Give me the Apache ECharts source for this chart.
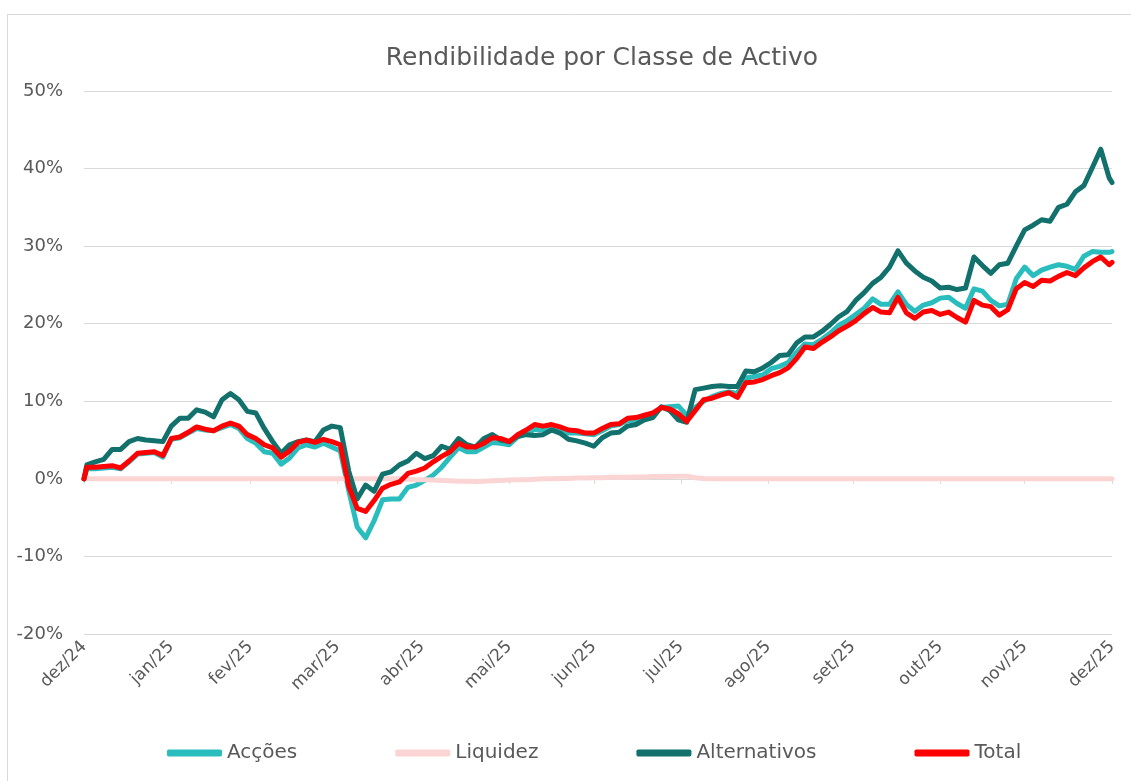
<!DOCTYPE html>
<html>
<head>
<meta charset="utf-8">
<title>Rendibilidade por Classe de Activo</title>
<script src="https://cdn.jsdelivr.net/npm/echarts@6/dist/echarts.min.js"></script>
<style>
  html, body { margin: 0; padding: 0; background: #fff; }
  #main { width: 1131px; height: 781px; }
</style>
</head>
<body>
<div id="main"></div>
<script>
// datas das observações (aprox. de 3 em 3 dias)
var dates = [
  '2024-12-31','2025-01-01','2025-01-04','2025-01-07','2025-01-10','2025-01-13','2025-01-16','2025-01-19','2025-01-22','2025-01-25','2025-01-28','2025-01-31',
  '2025-02-03','2025-02-06','2025-02-09','2025-02-12','2025-02-15','2025-02-18','2025-02-21','2025-02-24','2025-02-27',
  '2025-03-02','2025-03-05','2025-03-08','2025-03-11','2025-03-14','2025-03-17','2025-03-20','2025-03-23','2025-03-26','2025-03-29',
  '2025-04-01','2025-04-04','2025-04-07','2025-04-10','2025-04-13','2025-04-16','2025-04-19','2025-04-22','2025-04-25','2025-04-28',
  '2025-05-01','2025-05-04','2025-05-07','2025-05-10','2025-05-13','2025-05-16','2025-05-19','2025-05-22','2025-05-25','2025-05-28','2025-05-31',
  '2025-06-03','2025-06-06','2025-06-09','2025-06-12','2025-06-15','2025-06-18','2025-06-21','2025-06-24','2025-06-27','2025-06-30',
  '2025-07-03','2025-07-06','2025-07-09','2025-07-12','2025-07-15','2025-07-18','2025-07-21','2025-07-24','2025-07-27','2025-07-30',
  '2025-08-02','2025-08-05','2025-08-08','2025-08-11','2025-08-14','2025-08-17','2025-08-20','2025-08-23','2025-08-26','2025-08-29',
  '2025-09-01','2025-09-04','2025-09-07','2025-09-10','2025-09-13','2025-09-16','2025-09-19','2025-09-22','2025-09-25','2025-09-28',
  '2025-10-01','2025-10-04','2025-10-07','2025-10-10','2025-10-13','2025-10-16','2025-10-19','2025-10-22','2025-10-25','2025-10-28','2025-10-31',
  '2025-11-03','2025-11-06','2025-11-09','2025-11-12','2025-11-15','2025-11-18','2025-11-21','2025-11-24','2025-11-27','2025-11-30',
  '2025-12-03','2025-12-06','2025-12-09','2025-12-12','2025-12-15','2025-12-18','2025-12-21','2025-12-24','2025-12-27','2025-12-30','2025-12-31'
];

var acoes = [
  0, 1.3, 1.3, 1.4, 1.5, 1.3, 2.2, 3.2, 3.3, 3.4, 2.8, 5.1,
  5.3, 5.9, 6.5, 6.3, 6.2, 6.6, 7.0, 6.5, 5.2,
  4.6, 3.5, 3.3, 1.9, 2.7, 4.0, 4.4, 4.1, 4.6, 4.1,
  3.6, -1.5, -6.2, -7.6, -5.4, -2.7, -2.6, -2.6, -1.1, -0.8,
  -0.2, 0.5, 1.5, 2.8, 4.0, 3.5, 3.5, 4.1, 4.7, 4.6, 4.4,
  5.4, 5.8, 6.4, 6.3, 6.5, 6.3, 5.9, 5.9, 5.8, 5.7,
  6.2, 6.8, 7.0, 7.5, 7.6, 7.9, 8.3, 9.2, 9.3, 9.4,
  8.2, 9.2, 10.0, 10.6, 11.0, 11.2, 11.0, 13.0, 13.2, 13.4,
  14.2, 14.5, 15.0, 16.3, 17.4, 17.3, 18.0, 18.8, 19.8, 20.4,
  21.2, 22.0, 23.2, 22.5, 22.5, 24.1, 22.5, 21.6, 22.4, 22.7, 23.3,
  23.4, 22.6, 22.0, 24.5, 24.2, 23.0, 22.3, 22.5, 25.8, 27.3,
  26.2, 26.9, 27.3, 27.6, 27.4, 27.0, 28.7, 29.3, 29.2, 29.2, 29.3
];

var liquidez = [
  0, 0, 0, 0, 0, 0, 0, 0, 0, 0, 0, 0,
  0, 0, 0, 0, 0, 0, 0, 0, 0,
  0, 0, 0, 0, 0, 0, 0, 0, 0, 0,
  0, 0, 0, 0, 0, 0, 0, 0, -0.05, -0.1,
  -0.1, -0.15, -0.2, -0.25, -0.3, -0.3, -0.35, -0.3, -0.25, -0.2, -0.15,
  -0.1, -0.1, -0.05, 0, 0, 0.05, 0.05, 0.1, 0.1, 0.15,
  0.15, 0.2, 0.2, 0.2, 0.25, 0.25, 0.3, 0.3, 0.3, 0.35,
  0.35, 0.15, 0.05, 0, 0, 0, 0, 0, 0, 0,
  0, 0, 0, 0, 0, 0, 0, 0, 0, 0,
  0, 0, 0, 0, 0, 0, 0, 0, 0, 0, 0,
  0, 0, 0, 0, 0, 0, 0, 0, 0, 0,
  0, 0, 0, 0, 0, 0, 0, 0, 0, 0, 0
];

var alternativos = [
  0, 1.8, 2.2, 2.5, 3.8, 3.8, 4.8, 5.2, 5.0, 4.9, 4.8, 6.8,
  7.8, 7.8, 8.9, 8.6, 8.0, 10.2, 11.0, 10.2, 8.7,
  8.5, 6.5, 4.8, 3.3, 4.4, 4.8, 5.0, 4.8, 6.3, 6.8,
  6.6, 1.0, -2.6, -0.8, -1.6, 0.6, 0.9, 1.8, 2.3, 3.3,
  2.6, 3.0, 4.2, 3.8, 5.2, 4.4, 4.1, 5.2, 5.7, 5.0, 4.8,
  5.5, 5.7, 5.6, 5.7, 6.3, 5.9, 5.1, 4.9, 4.6, 4.2,
  5.3, 5.9, 6.0, 6.8, 7.0, 7.6, 7.9, 9.3, 8.8, 7.6,
  7.3, 11.5, 11.7, 11.9, 12.0, 11.9, 11.9, 13.9, 13.8, 14.3,
  15.0, 15.9, 16.0, 17.5, 18.3, 18.3, 19.0, 19.9, 20.9, 21.6,
  23.0, 24.0, 25.2, 26.0, 27.3, 29.4, 27.8, 26.8, 26.0, 25.5, 24.6,
  24.7, 24.4, 24.6, 28.6, 27.5, 26.5, 27.6, 27.8, 30.0, 32.1,
  32.7, 33.4, 33.2, 35.0, 35.4, 37.0, 37.8, 40.1, 42.5, 38.8, 38.2
];

var total = [
  0, 1.5, 1.5, 1.6, 1.7, 1.4, 2.3, 3.3, 3.4, 3.5, 3.0, 5.2,
  5.4, 6.0, 6.7, 6.4, 6.2, 6.8, 7.2, 6.8, 5.7,
  5.2, 4.4, 4.0, 2.8, 3.6, 4.7, 5.0, 4.7, 5.1, 4.8,
  4.4, -1.0, -3.8, -4.2, -2.8, -1.2, -0.7, -0.4, 0.7, 1.0,
  1.4, 2.2, 2.9, 3.5, 4.6, 4.1, 4.1, 4.6, 5.3, 5.2, 4.8,
  5.7, 6.3, 7.0, 6.8, 7.0, 6.7, 6.3, 6.2, 5.9, 5.9,
  6.5, 7.0, 7.1, 7.8, 7.9, 8.2, 8.5, 9.2, 9.0, 8.4,
  7.4, 8.8, 10.2, 10.4, 10.8, 11.1, 10.5, 12.4, 12.5, 12.8,
  13.3, 13.7, 14.3, 15.5, 17.0, 16.8, 17.6, 18.3, 19.1, 19.7,
  20.4, 21.3, 22.1, 21.5, 21.4, 23.4, 21.4, 20.7, 21.5, 21.7, 21.2,
  21.5, 20.8, 20.2, 23.0, 22.4, 22.2, 21.1, 21.8, 24.5, 25.3,
  24.8, 25.6, 25.5, 26.1, 26.6, 26.2, 27.2, 28.0, 28.6, 27.6, 27.9
];

// marcas do eixo (fim de cada mês)
var tickDates = ['2024-12-31','2025-01-31','2025-02-28','2025-03-31','2025-04-30','2025-05-31',
  '2025-06-30','2025-07-31','2025-08-31','2025-09-30','2025-10-31','2025-11-30','2025-12-31'];
var monthNames = ['jan','fev','mar','abr','mai','jun','jul','ago','set','out','nov','dez'];

var fontFamily = '"DejaVu Sans", sans-serif';
var textColor = '#595959';
var gridColor = '#D9D9D9';

function toTime(s) {
  var p = s.split('-');
  return new Date(+p[0], +p[1] - 1, +p[2]).getTime();
}
function pairs(vals) {
  return dates.map(function (d, i) { return [toTime(d), vals[i]]; });
}
var ticks = tickDates.map(toTime);
var xMin = toTime('2024-12-31');
var xMax = toTime('2025-12-31');

var chart = echarts.init(document.getElementById('main'));

function lineSeries(name, vals, color, z) {
  return {
    name: name,
    type: 'line',
    data: pairs(vals),
    symbol: 'none',
    z: z,
    itemStyle: { color: color },
    lineStyle: { color: color, width: 5, cap: 'round', join: 'round' }
  };
}

var option = {
  animation: false,
  backgroundColor: '#fff',
  title: {
    text: 'Rendibilidade por Classe de Activo',
    left: 597,
    textAlign: 'center',
    top: 41,
    textStyle: { fontSize: 25, fontWeight: 'normal', color: textColor, fontFamily: fontFamily }
  },
  graphic: [{
    type: 'rect',
    silent: true,
    z: -10,
    shape: { x: 7.5, y: 14.5, width: 1140, height: 800 },
    style: { fill: 'none', stroke: gridColor, lineWidth: 1 }
  }],
  legend: {
    data: ['Acções', 'Liquidez', 'Alternativos', 'Total'],
    top: 738,
    left: 162,
    icon: 'roundRect',
    itemWidth: 55,
    itemHeight: 7,
    itemGap: 98,
    textStyle: { fontSize: 20, color: textColor, fontFamily: fontFamily }
  },
  grid: { left: 84, right: 19, top: 91, bottom: 147 },
  xAxis: [{
    type: 'value',
    min: xMin,
    max: xMax,
    axisLine: { show: false, onZero: false },
    axisTick: { show: false },
    splitLine: { show: false },
    axisLabel: {
      customValues: ticks,
      rotate: 45,
      margin: 10,
      fontSize: 17,
      color: textColor,
      fontFamily: fontFamily,
      formatter: function (v) {
        var d = new Date(v);
        return monthNames[d.getMonth()] + '/' + String(d.getFullYear()).slice(2);
      }
    }
  }, {
    type: 'value',
    min: xMin,
    max: xMax,
    position: 'bottom',
    axisLine: { show: true, onZero: true, lineStyle: { color: gridColor, width: 1 } },
    axisTick: { show: true, customValues: ticks, length: 5, lineStyle: { color: gridColor } },
    axisLabel: { show: false },
    splitLine: { show: false }
  }],
  yAxis: {
    type: 'value',
    min: -20,
    max: 50,
    interval: 10,
    axisLine: { show: false },
    axisTick: { show: false },
    axisLabel: { formatter: '{value}%', fontSize: 18, color: textColor, fontFamily: fontFamily, margin: 21 },
    splitLine: { lineStyle: { color: gridColor, width: 1 } }
  },
  series: [
    lineSeries('Acções', acoes, '#2ABDBE', 2),
    lineSeries('Liquidez', liquidez, '#FBD5D3', 3),
    lineSeries('Alternativos', alternativos, '#12716C', 4),
    lineSeries('Total', total, '#FF0000', 5)
  ]
};

chart.setOption(option);
</script>
</body>
</html>
